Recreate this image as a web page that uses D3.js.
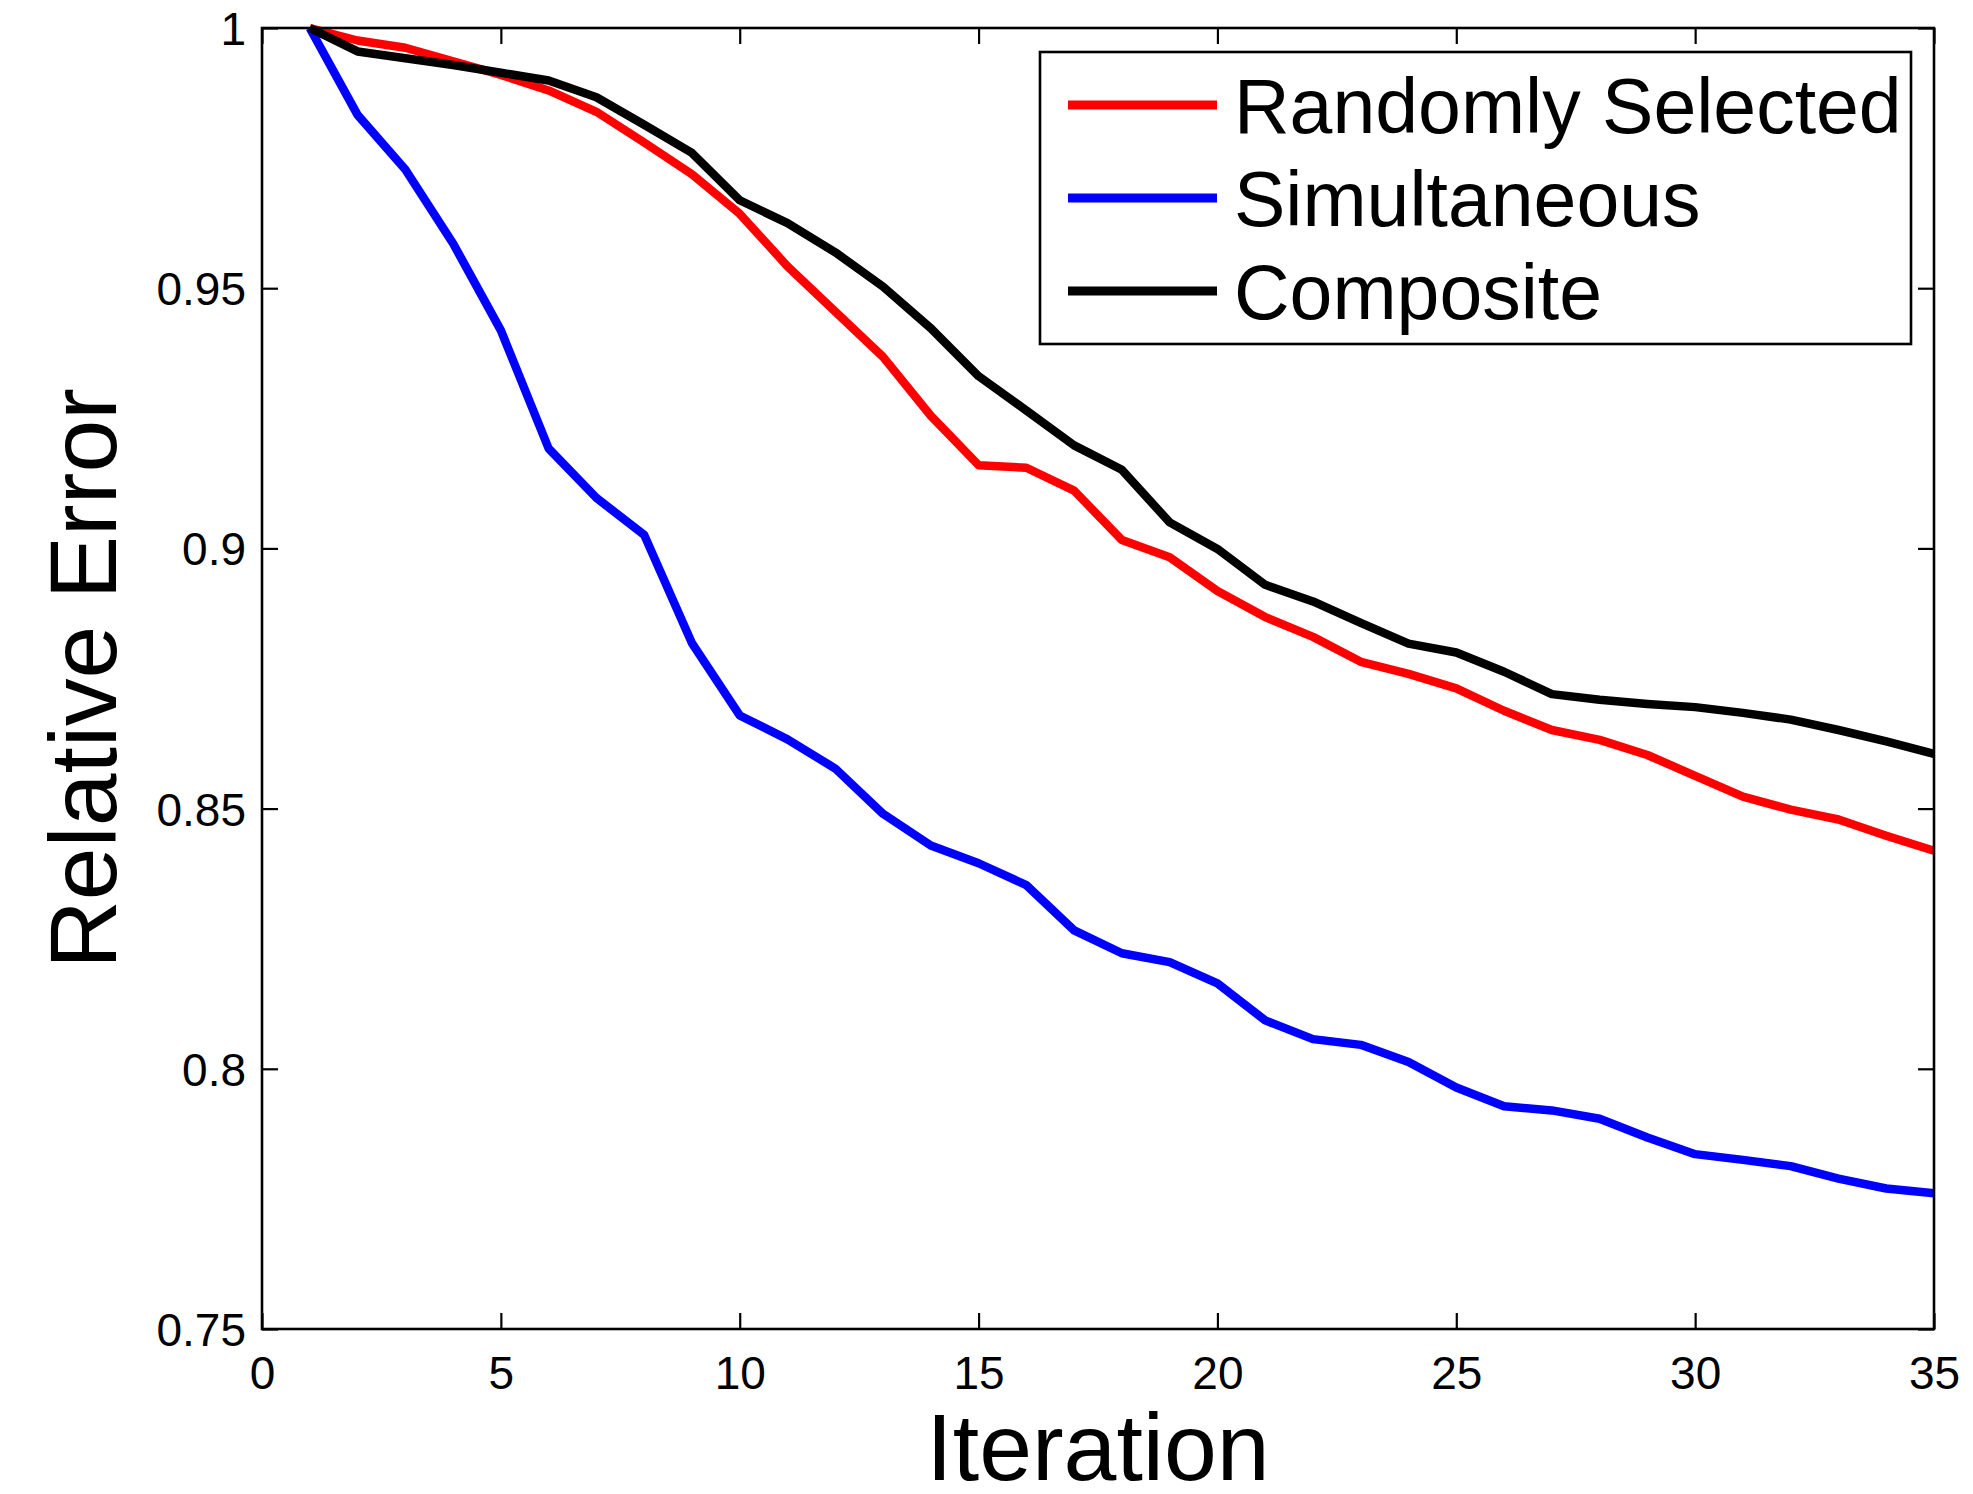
<!DOCTYPE html>
<html>
<head>
<meta charset="utf-8">
<script src="https://cdn.jsdelivr.net/npm/d3@7"></script>
<style>
  html, body { margin: 0; padding: 0; background: #fff; }
  svg { display: block; font-family: "Liberation Sans", Arial, Helvetica, sans-serif; }
</style>
</head>
<body>
<svg id="chart" width="1973" height="1494"></svg>
<script>
const iterations = d3.range(1, 36);
const randomlySelected = [1.0, 0.9976, 0.9962, 0.9936, 0.9910, 0.9880, 0.9839, 0.9780, 0.9719, 0.9643,
  0.9542, 0.9455, 0.9368, 0.9255, 0.9160, 0.9155, 0.9111, 0.9016, 0.8983, 0.8918,
  0.8868, 0.8830, 0.8782, 0.8759, 0.8731, 0.8688, 0.8651, 0.8632, 0.8603, 0.8563,
  0.8523, 0.8498, 0.8479, 0.8448, 0.8419];
const simultaneous = [1.0, 0.9833, 0.9728, 0.9586, 0.9419, 0.9192, 0.9097, 0.9026, 0.8818, 0.8679,
  0.8633, 0.8577, 0.8490, 0.8429, 0.8395, 0.8353, 0.8266, 0.8222, 0.8205, 0.8164,
  0.8093, 0.8057, 0.8046, 0.8013, 0.7964, 0.7928, 0.7920, 0.7904, 0.7868, 0.7836,
  0.7825, 0.7813, 0.7789, 0.7770, 0.7761];
const composite = [1.0, 0.9955, 0.9942, 0.9929, 0.9914, 0.9899, 0.9867, 0.9814, 0.9760, 0.9669,
  0.9625, 0.9569, 0.9503, 0.9423, 0.9331, 0.9265, 0.9198, 0.9151, 0.9050, 0.8999,
  0.8930, 0.8898, 0.8857, 0.8817, 0.8800, 0.8763, 0.8720, 0.8709, 0.8701, 0.8695,
  0.8684, 0.8671, 0.8651, 0.8629, 0.8605];
const seriesNames = ["Randomly Selected", "Simultaneous", "Composite"];
const seriesColors = ["#ff0000", "#0000ff", "#000000"];
const xTicks = [0, 5, 10, 15, 20, 25, 30, 35];
const xTickLabels = ["0", "5", "10", "15", "20", "25", "30", "35"];
const yTicks = [0.75, 0.8, 0.85, 0.9, 0.95, 1];
const yTickLabels = ["0.75", "0.8", "0.85", "0.9", "0.95", "1"];
const xLabel = "Iteration";
const yLabel = "Relative Error";

const series = [randomlySelected, simultaneous, composite];

const L = 262, R = 1934, T = 28, B = 1329;
const svg = d3.select("#chart");
const x = d3.scaleLinear().domain([0, 35]).range([L, R]);
const y = d3.scaleLinear().domain([0.75, 1]).range([B, T]);

const tickFont = 46;
const gx = svg.append("g").attr("transform", `translate(0,${B})`)
  .call(d3.axisBottom(x).tickValues(xTicks).tickFormat((d, i) => xTickLabels[i])
    .tickSizeInner(-16).tickSizeOuter(0).tickPadding(27));
const gxt = svg.append("g").attr("transform", `translate(0,${T})`)
  .call(d3.axisTop(x).tickValues(xTicks).tickFormat("").tickSizeInner(-16).tickSizeOuter(0));
const gy = svg.append("g").attr("transform", `translate(${L},0)`)
  .call(d3.axisLeft(y).tickValues(yTicks).tickFormat((d, i) => yTickLabels[i])
    .tickSizeInner(-16).tickSizeOuter(0).tickPadding(16));
const gyr = svg.append("g").attr("transform", `translate(${R},0)`)
  .call(d3.axisRight(y).tickValues(yTicks).tickFormat("").tickSizeInner(-16).tickSizeOuter(0));

[gx, gxt, gy, gyr].forEach(g => {
  g.select(".domain").remove();
  g.selectAll(".tick line").attr("stroke", "#000").attr("stroke-width", 2.2);
  g.selectAll(".tick text").attr("fill", "#000")
    .style("font-size", tickFont + "px")
    .style("font-family", '"Liberation Sans", Arial, sans-serif');
});
gy.selectAll(".tick text").attr("dy", "0.36em");

const line = d3.line().x((d, i) => x(iterations[i])).y(d => y(d));
series.forEach((s, k) => {
  svg.append("path").datum(s)
    .attr("d", line)
    .attr("fill", "none")
    .attr("stroke", seriesColors[k])
    .attr("stroke-width", 8.5)
    .attr("stroke-linejoin", "round")
    .attr("stroke-linecap", "butt");
});

svg.append("rect").attr("x", L).attr("y", T).attr("width", R - L).attr("height", B - T)
  .attr("fill", "none").attr("stroke", "#000").attr("stroke-width", 2.6);

svg.append("text").attr("x", (L + R) / 2).attr("y", 1480)
  .attr("text-anchor", "middle").style("font-size", "95px").attr("fill", "#000").text(xLabel);
svg.append("text").attr("transform", `translate(116,${(T + B) / 2}) rotate(-90)`)
  .attr("text-anchor", "middle").style("font-size", "95px").attr("fill", "#000").text(yLabel);

const lg = svg.append("g");
lg.append("rect").attr("x", 1040).attr("y", 52).attr("width", 1911 - 1040).attr("height", 344 - 52)
  .attr("fill", "#fff").attr("stroke", "#000").attr("stroke-width", 2.6);
const rowY = [105, 198, 291];
seriesNames.forEach((name, k) => {
  lg.append("line").attr("x1", 1068).attr("x2", 1217).attr("y1", rowY[k]).attr("y2", rowY[k])
    .attr("stroke", seriesColors[k]).attr("stroke-width", 9);
  lg.append("text").attr("x", 1234).attr("y", rowY[k]).attr("dy", "0.36em")
    .style("font-size", "77px").attr("fill", "#000").text(name);
});
</script>
</body>
</html>
